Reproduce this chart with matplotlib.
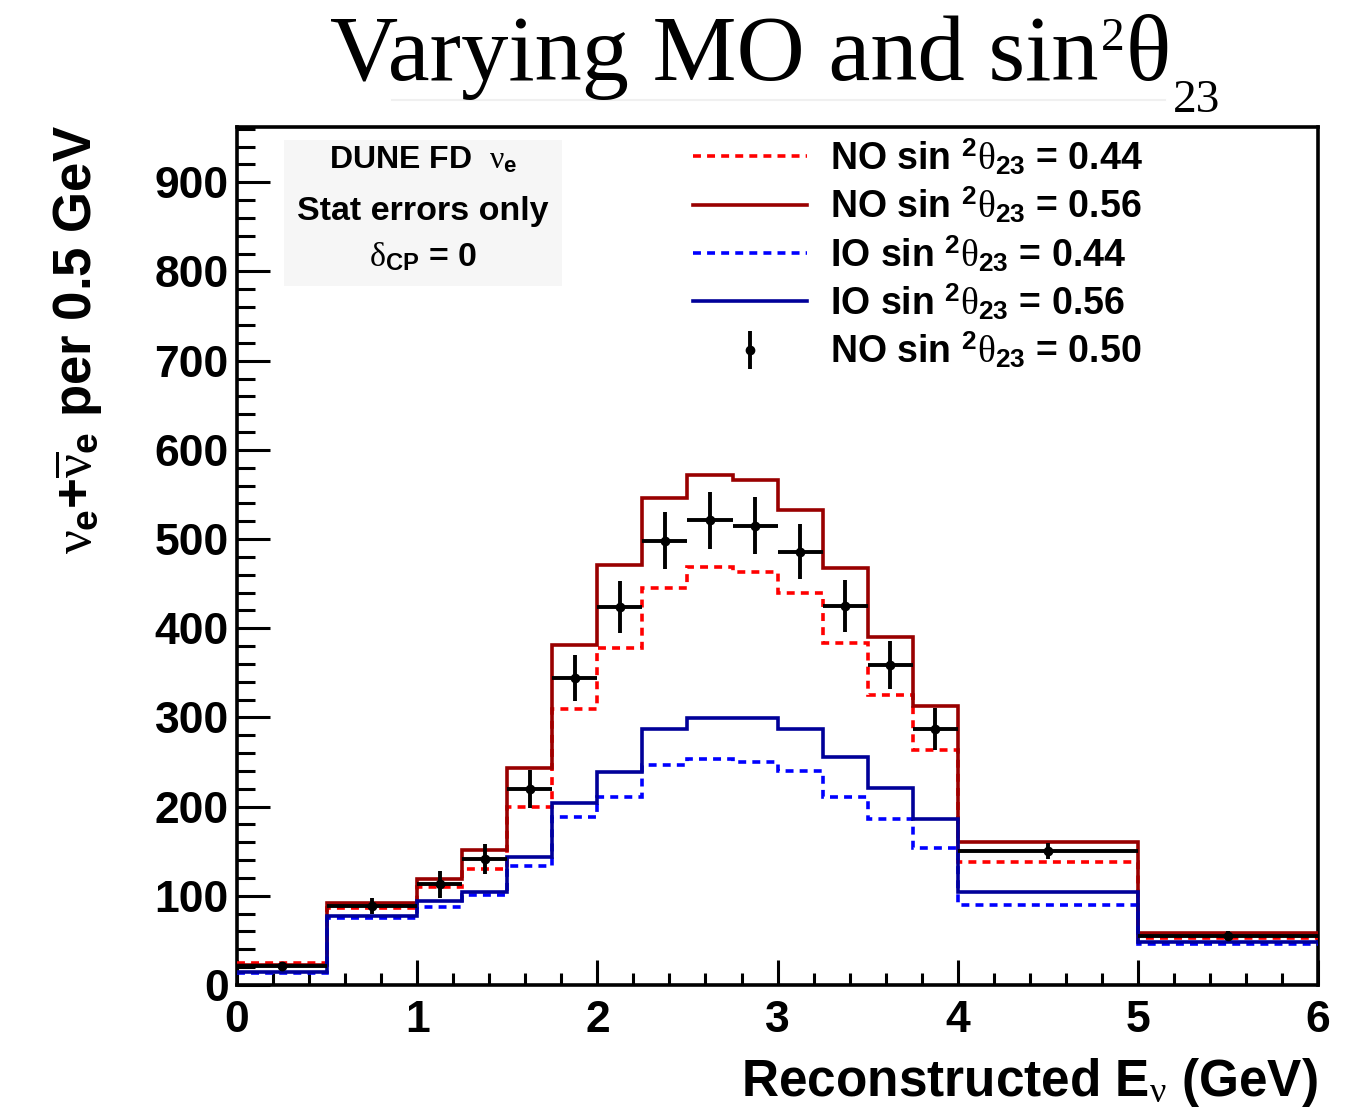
import numpy as np
import matplotlib
matplotlib.use("Agg")
import matplotlib.pyplot as plt
from matplotlib.lines import Line2D
from matplotlib.patches import Rectangle
from matplotlib.ticker import MultipleLocator

# Reconstructed neutrino energy bin edges (GeV)
edges = [0, 0.5, 1, 1.25, 1.5, 1.75, 2, 2.25, 2.5, 2.75, 3, 3.25, 3.5, 3.75, 4, 5, 6]

# Event rates per 0.5 GeV for each oscillation hypothesis
no_044 = [25, 86, 110, 130, 200, 310, 378, 445, 469, 463, 440, 384, 325, 264, 138, 53]
no_056 = [22, 92, 119, 151, 243, 381, 471, 546, 572, 566, 533, 467, 390, 313, 160, 58]
io_044 = [13, 75, 88, 101, 133, 188, 211, 247, 253, 250, 240, 211, 186, 154, 90, 46]
io_056 = [15, 77, 94, 104, 143, 204, 239, 287, 299, 299, 287, 256, 221, 186, 104, 48]

# Pseudo-data (NO, sin^2 theta23 = 0.50) with statistical errors
no_050 = [21, 89, 113, 141, 220, 344, 424, 498, 521, 515, 486, 425, 359, 287, 150, 55]
no_050_err = [5, 9, 15, 17, 21, 26, 29, 32, 32, 32, 31, 29, 27, 24, 9, 5]

labels = [
    r"NO sin $^{2}\theta_{23}$ = 0.44",
    r"NO sin $^{2}\theta_{23}$ = 0.56",
    r"IO sin $^{2}\theta_{23}$ = 0.44",
    r"IO sin $^{2}\theta_{23}$ = 0.56",
    r"NO sin $^{2}\theta_{23}$ = 0.50",
]

plt.rcParams["font.family"] = ["Liberation Sans", "DejaVu Sans"]
plt.rcParams["font.weight"] = "bold"
plt.rcParams["mathtext.fontset"] = "custom"
plt.rcParams["mathtext.rm"] = "Liberation Sans:weight=bold"
plt.rcParams["mathtext.bf"] = "Liberation Sans:weight=bold"
plt.rcParams["mathtext.it"] = "Liberation Serif:weight=normal"

RED = "#ff0000"
DARKRED = "#990000"
BLUE = "#0000ff"
DARKBLUE = "#000099"
LW = 2.6
DOT = (0, (2.2, 1.7))

W, H = 1347, 1115
fig = plt.figure(figsize=(W / 100, H / 100), dpi=100)
ax = fig.add_axes([0.176, 0.1166, 0.8025, 0.7695])

edges_a = np.asarray(edges, dtype=float)
centers = 0.5 * (edges_a[1:] + edges_a[:-1])
halfw = 0.5 * (edges_a[1:] - edges_a[:-1])

ax.stairs(no_044, edges, baseline=None, color=RED, lw=LW, ls=DOT, zorder=3)
ax.stairs(no_056, edges, baseline=None, color=DARKRED, lw=LW, zorder=3)
ax.stairs(io_044, edges, baseline=None, color=BLUE, lw=LW, ls=DOT, zorder=3)
ax.stairs(io_056, edges, baseline=None, color=DARKBLUE, lw=LW, zorder=3)
ax.errorbar(centers, no_050, xerr=halfw, yerr=no_050_err, fmt="o", color="k",
            ms=6, elinewidth=2.8, capsize=0, zorder=5)

ax.set_xlim(0, 6)
ax.set_ylim(0, 962)
ax.xaxis.set_major_locator(MultipleLocator(1))
ax.xaxis.set_minor_locator(MultipleLocator(0.2))
ax.yaxis.set_major_locator(MultipleLocator(100))
ax.yaxis.set_minor_locator(MultipleLocator(20))
ax.tick_params(axis="both", which="both", direction="in", top=False, right=False,
               width=2.2, color="k")
ax.tick_params(axis="y", which="major", length=24, pad=6, labelsize=32)
ax.tick_params(axis="y", which="minor", length=13)
ax.tick_params(axis="x", which="major", length=18, pad=11, labelsize=32)
ax.tick_params(axis="x", which="minor", length=9)
for s in ax.spines.values():
    s.set_linewidth(2.6)

ax.set_ylabel(r"$\nu_{\mathrm{e}}$+$\overline{\nu}_{\mathrm{e}}$ per 0.5 GeV",
              fontsize=38, fontweight="bold", va="center")
ax.yaxis.set_label_coords(-0.148, 0.752)
ax.set_xlabel(r"Reconstructed E$_{\nu}$ (GeV)", fontsize=37, fontweight="bold",
              ha="right", va="center")
ax.xaxis.set_label_coords(1.0, -0.1142)

# Info box
ax.add_patch(Rectangle((0.0435, 0.8147), 0.2571, 0.1703, transform=ax.transAxes,
                       facecolor="#f6f6f6", edgecolor="none", zorder=1))
ax.text(0.172, 0.9615, r"DUNE FD  $\nu_{\mathrm{e}}$", transform=ax.transAxes,
        ha="center", va="center", fontsize=23, fontweight="bold", zorder=2)
ax.text(0.172, 0.901, "Stat errors only", transform=ax.transAxes,
        ha="center", va="center", fontsize=24.5, fontweight="bold", zorder=2)
ax.text(0.172, 0.8485, r"$\delta_{\mathrm{CP}}$ = 0", transform=ax.transAxes,
        ha="center", va="center", fontsize=24.5, fontweight="bold", zorder=2)

# Legend
handles = [
    Line2D([], [], color=RED, lw=LW, ls=DOT),
    Line2D([], [], color=DARKRED, lw=LW),
    Line2D([], [], color=BLUE, lw=LW, ls=DOT),
    Line2D([], [], color=DARKBLUE, lw=LW),
]
pt = ax.errorbar([np.nan], [np.nan], yerr=[1.0], fmt="o", color="k", ms=6,
                 elinewidth=2.8, capsize=0)
handles.append(pt)
ax.legend(handles, labels, loc="upper left", bbox_to_anchor=(0.4218, 0.989),
          frameon=False, fontsize=27, handlelength=3.04, handletextpad=0.61,
          labelspacing=0.2, borderpad=0, borderaxespad=0)

# Title, assembled from pieces so the super/subscripts sit like the original
serif = dict(fontfamily="Liberation Serif", fontweight="normal", va="baseline",
             ha="left")
renderer = fig.canvas.get_renderer()
base = fig.text(330 / W, 1 - 80 / H, "Varying MO and sin", fontsize=68, **serif)
x1 = base.get_window_extent(renderer).x1
sup = fig.text((x1 + 2) / W, 1 - 50 / H, "2", fontsize=34, **serif)
x1 = sup.get_window_extent(renderer).x1
th = fig.text((x1 + 1) / W, 1 - 80 / H, "\u03b8", fontsize=68, **serif)
x1 = th.get_window_extent(renderer).x1
fig.text((x1 + 2) / W, 1 - 112 / H, "23", fontsize=34, **serif)
fig.add_artist(Line2D([392 / W, 1165 / W], [1 - 100 / H, 1 - 100 / H],
                      transform=fig.transFigure, color="#f0f0f0", lw=1.5))

fig.savefig("out.png", dpi=100)
